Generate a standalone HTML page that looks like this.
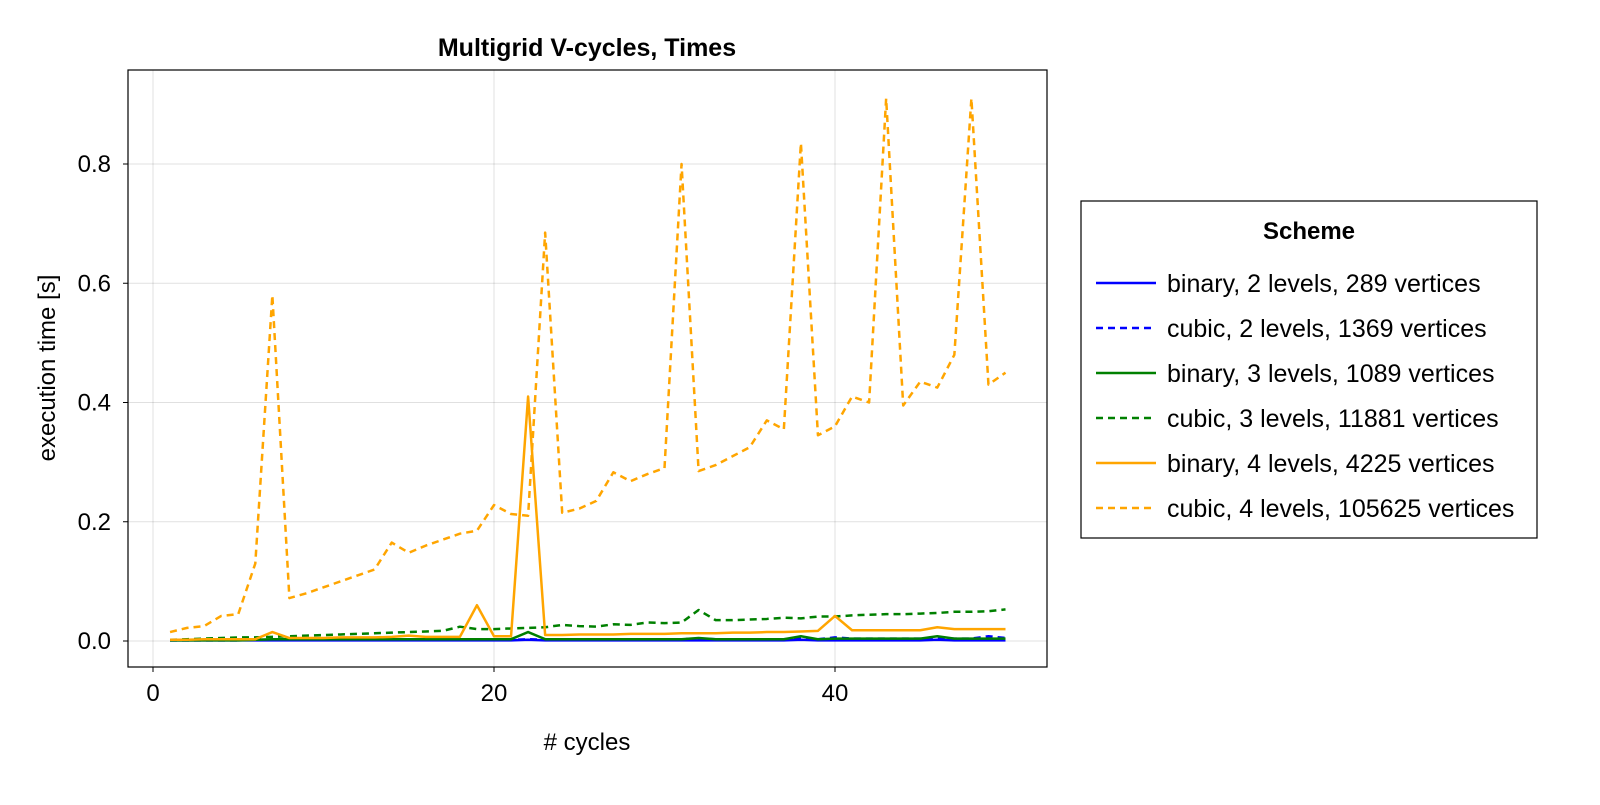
<!DOCTYPE html>
<html><head><meta charset="utf-8"><style>
body{margin:0;background:#fff;font-family:"Liberation Sans",Arial,sans-serif}
svg text{font-family:"Liberation Sans",Arial,sans-serif}
</style></head><body>
<svg id="chart" width="1600" height="800" xmlns="http://www.w3.org/2000/svg">
<rect width="1600" height="800" fill="#fff"/>
<g id="grid"></g>
<g id="series"></g>
<rect x="128" y="70" width="919" height="597" fill="none" stroke="#000" stroke-width="1.2"/>
<g id="ticks"></g>
<text x="587" y="56" text-anchor="middle" font-size="25" font-weight="bold">Multigrid V-cycles, Times</text>
<text x="587" y="750" text-anchor="middle" font-size="24"># cycles</text>
<text transform="translate(55,368) rotate(-90)" text-anchor="middle" font-size="24">execution time [s]</text>
<g>
<rect x="1081" y="201" width="456" height="337" fill="#fff" stroke="#000" stroke-width="1.2"/>
<text x="1309" y="239" text-anchor="middle" font-size="24" font-weight="bold">Scheme</text>
<g id="legend-items"></g>
</g>
</svg>
<script>
const xTicks=[0,20,40];
const yTicks=[0.0,0.2,0.4,0.6,0.8];
const yTickLabels=["0.0","0.2","0.4","0.6","0.8"];
const cycles=Array.from({length:50},(_,i)=>i+1);
const seriesNames=["binary, 2 levels, 289 vertices","cubic, 2 levels, 1369 vertices","binary, 3 levels, 1089 vertices","cubic, 3 levels, 11881 vertices","binary, 4 levels, 4225 vertices","cubic, 4 levels, 105625 vertices"];
const binary2=[0.001,0.001,0.001,0.001,0.001,0.001,0.001,0.001,0.001,0.001,0.001,0.001,0.001,0.001,0.001,0.001,0.001,0.001,0.001,0.001,0.001,0.002,0.001,0.001,0.001,0.001,0.001,0.001,0.001,0.001,0.001,0.001,0.001,0.001,0.001,0.001,0.001,0.002,0.001,0.001,0.001,0.001,0.001,0.001,0.001,0.002,0.001,0.001,0.001,0.001];
const cubic2=[0.001,0.001,0.001,0.001,0.001,0.002,0.002,0.002,0.002,0.002,0.002,0.002,0.002,0.002,0.002,0.002,0.002,0.002,0.002,0.002,0.002,0.003,0.002,0.002,0.002,0.002,0.002,0.002,0.002,0.002,0.003,0.004,0.003,0.003,0.003,0.003,0.003,0.004,0.003,0.006,0.004,0.004,0.004,0.004,0.004,0.005,0.004,0.004,0.008,0.005];
const binary3=[0.001,0.001,0.001,0.001,0.001,0.002,0.003,0.003,0.003,0.003,0.003,0.003,0.003,0.003,0.003,0.003,0.003,0.003,0.003,0.003,0.003,0.015,0.003,0.003,0.003,0.003,0.003,0.003,0.003,0.003,0.003,0.005,0.003,0.003,0.003,0.003,0.003,0.008,0.003,0.004,0.004,0.004,0.004,0.004,0.004,0.008,0.004,0.004,0.004,0.004];
const cubic3=[0.002,0.003,0.004,0.005,0.006,0.006,0.007,0.008,0.009,0.010,0.011,0.012,0.013,0.014,0.015,0.016,0.017,0.024,0.020,0.020,0.021,0.022,0.023,0.027,0.025,0.024,0.028,0.027,0.031,0.030,0.031,0.052,0.035,0.035,0.036,0.037,0.039,0.038,0.041,0.041,0.043,0.044,0.045,0.045,0.046,0.047,0.049,0.049,0.050,0.053];
const binary4=[0.002,0.002,0.003,0.003,0.003,0.003,0.015,0.005,0.005,0.005,0.006,0.006,0.006,0.007,0.009,0.007,0.007,0.007,0.060,0.008,0.008,0.410,0.010,0.010,0.011,0.011,0.011,0.012,0.012,0.012,0.013,0.013,0.013,0.014,0.014,0.015,0.015,0.016,0.017,0.042,0.018,0.018,0.018,0.018,0.018,0.023,0.020,0.020,0.020,0.020];
const cubic4=[0.015,0.022,0.025,0.042,0.045,0.13,0.58,0.072,0.08,0.09,0.10,0.11,0.12,0.165,0.148,0.16,0.17,0.18,0.185,0.228,0.213,0.21,0.685,0.215,0.222,0.235,0.283,0.268,0.28,0.29,0.80,0.285,0.295,0.31,0.325,0.37,0.355,0.835,0.345,0.36,0.41,0.40,0.91,0.395,0.435,0.425,0.48,0.91,0.43,0.45];
const allSeries=[binary2,cubic2,binary3,cubic3,binary4,cubic4];
const colors=["#0000ff","#0000ff","#008000","#008000","#ffa500","#ffa500"];
const dashed=[false,true,false,true,false,true];
const NS="http://www.w3.org/2000/svg";
const X=v=>153+(v-0)*(835-153)/40;
const Y=v=>641-v*(641-164)/0.8;
function mk(tag,attrs,parent){const e=document.createElementNS(NS,tag);for(const k in attrs)e.setAttribute(k,attrs[k]);parent.appendChild(e);return e;}
const grid=document.getElementById('grid'),ticks=document.getElementById('ticks');
xTicks.forEach(t=>{
  const g=mk('line',{x1:X(t),x2:X(t),y1:70,y2:667,stroke:'#000','stroke-opacity':0.12,'stroke-width':1},grid);
  
  
  const tk=mk('line',{x1:X(t),x2:X(t),y1:667,y2:672,stroke:'#000'},ticks);
  
  
  const l=mk('text',{x:X(t),y:701,'text-anchor':'middle','font-size':24},ticks);
  l.textContent=t;
  
  
});
yTicks.forEach((t,i)=>{
  const g=mk('line',{x1:128,x2:1047,y1:Y(t),y2:Y(t),stroke:'#000','stroke-opacity':0.12,'stroke-width':1},grid);
  
  
  const tk=mk('line',{x1:123,x2:128,y1:Y(t),y2:Y(t),stroke:'#000'},ticks);
  
  
  const l=mk('text',{x:111,y:Y(t)+8,'text-anchor':'end','font-size':24},ticks);
  l.textContent=yTickLabels[i];
  
  
});
const sg=document.getElementById('series'),lg=document.getElementById('legend-items');
allSeries.forEach((s,i)=>{
  const pts=s.map((v,j)=>X(cycles[j])+','+Y(v)).join(' ');
  const a={points:pts,fill:'none',stroke:colors[i],'stroke-width':2.5,'stroke-linejoin':'round'};
  if(dashed[i])a['stroke-dasharray']='7,5';
  const p=mk('polyline',a,sg);
  
  
  const ly=283+i*45;
  const b={x1:1096,x2:1156,y1:ly,y2:ly,stroke:colors[i],'stroke-width':2.5};
  if(dashed[i])b['stroke-dasharray']='7,5';
  const ll=mk('line',b,lg);
  
  
  const t=mk('text',{x:1167,y:ly+9,'font-size':25},lg);
  t.textContent=seriesNames[i];
  
  
});
</script>
</body></html>
